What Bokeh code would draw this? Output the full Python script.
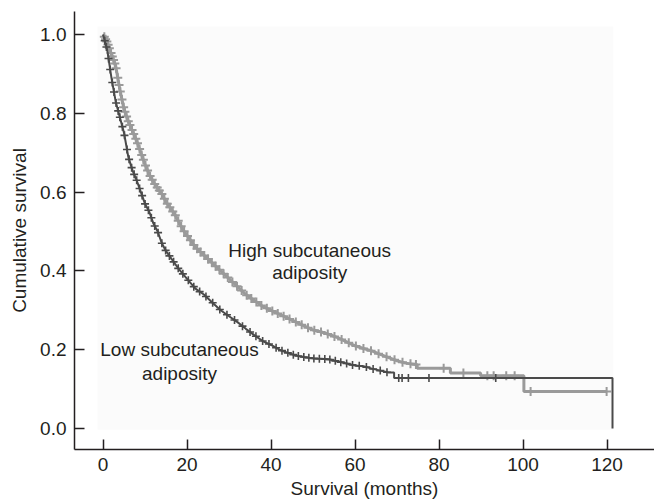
import numpy as np
from bokeh.plotting import figure
from bokeh.models import Range1d, BoxAnnotation, Label, FixedTicker
from bokeh.embed import file_html
from bokeh.resources import INLINE

# ---- data ----
x_ticks = [0, 20, 40, 60, 80, 100, 120]
y_ticks = [0.0, 0.2, 0.4, 0.6, 0.8, 1.0]
y_tick_labels = ["0.0", "0.2", "0.4", "0.6", "0.8", "1.0"]

high_time = [0, 1, 2, 3, 4, 5, 6, 7, 8, 9, 10, 11, 12, 13, 14, 15, 16, 17, 18, 19, 20,
             22, 24, 26, 28, 30, 32, 34, 36, 38, 40, 42, 44, 46, 48, 50, 52, 54, 56, 58,
             60, 62, 64, 66, 68, 70, 72, 74.8, 74.8, 82.7, 82.7, 89.9, 89.9, 100.2, 100.2, 120]
high_surv = [1.00, 0.98, 0.95, 0.92, 0.86, 0.81, 0.78, 0.755, 0.73, 0.70, 0.67, 0.645, 0.625,
             0.61, 0.595, 0.575, 0.56, 0.545, 0.525, 0.505, 0.49,
             0.46, 0.44, 0.42, 0.40, 0.38, 0.36, 0.34, 0.325, 0.31, 0.30, 0.29, 0.28, 0.27,
             0.26, 0.25, 0.245, 0.238, 0.23, 0.22, 0.21, 0.203, 0.197, 0.188, 0.18, 0.172,
             0.166, 0.162, 0.153, 0.153, 0.141, 0.141, 0.134, 0.134, 0.094, 0.094]

low_time = [0, 1, 2, 3, 4, 5, 6, 7, 8, 9, 10, 11, 12, 13, 14, 15, 16, 17, 18, 20, 22, 24,
            26, 28, 30, 32, 34, 36, 38, 40, 42, 44, 46, 48, 50, 52, 54, 56, 58, 60, 62, 64,
            66, 68, 69.3, 69.3, 121.3, 121.3]
low_surv = [1.00, 0.96, 0.89, 0.83, 0.79, 0.75, 0.69, 0.655, 0.63, 0.60, 0.57, 0.55, 0.52,
            0.50, 0.47, 0.45, 0.435, 0.42, 0.405, 0.38, 0.355, 0.34, 0.32, 0.30, 0.285, 0.27,
            0.253, 0.237, 0.222, 0.212, 0.20, 0.192, 0.185, 0.181, 0.178, 0.177, 0.175, 0.17,
            0.165, 0.16, 0.158, 0.152, 0.147, 0.142, 0.142, 0.128, 0.128, 0.0]

high_censor = [0.3, 0.6, 0.9, 1.2, 1.5, 1.9, 2.2, 2.5, 2.8, 3.1, 3.5, 3.8, 4.1, 4.5, 4.9, 5.2,
               5.6, 6.0, 6.4, 6.9, 7.3, 7.8, 8.2, 8.7, 9.2, 9.6, 10.1, 10.6, 11.2, 11.7, 12.3,
               12.9, 13.4, 14.0, 14.6, 15.3, 15.9, 16.6, 17.2, 17.9, 18.6, 19.3, 20.1, 20.8,
               21.6, 22.4, 23.2, 24.1, 25.0, 25.9, 26.8, 27.7, 28.7, 29.7, 30.8, 31.9, 33.0,
               34.2, 35.3, 36.5, 37.7, 39.0, 40.3, 41.6, 43.0, 44.4, 45.9, 47.3, 48.8, 50.3,
               51.9, 53.5, 55.1, 56.8, 58.5, 60.2, 62.0, 63.8, 65.6, 67.5, 69.4, 71.3, 73.2,
               74.5, 81.1, 85.8, 91.5, 93.0, 96.0, 98.0, 101.8, 119.9]
low_censor = [0.4, 0.8, 1.3, 1.7, 2.2, 2.6, 3.1, 3.6, 4.0, 4.6, 5.1, 5.7, 6.2, 6.8, 7.4, 8.0,
              8.7, 9.3, 10.0, 10.8, 11.5, 12.3, 13.1, 14.0, 14.9, 15.8, 16.8, 17.9, 19.0,
              20.3, 21.6, 23.0, 24.5, 26.1, 27.8, 29.5, 31.3, 33.2, 35.0, 36.4, 38.0, 39.5,
              41.2, 42.6, 44.0, 45.3, 46.5, 47.8, 49.0, 50.2, 51.5, 52.8, 54.0, 55.3, 56.6,
              58.0, 59.4, 61.0, 62.7, 64.3, 66.0, 67.6, 70.4, 71.2, 72.7, 77.6, 93.5]

HIGH_COLOR = "#9a9a9a"
LOW_COLOR = "#4a4a4a"
TEXT_COLOR = "#231f20"
FONT = "Liberation Sans"
FS = "19px"

p = figure(width=654, height=501, x_range=Range1d(-6.8, 131.3), y_range=Range1d(-0.0532, 1.0582),
           output_backend="svg", toolbar_location=None,
           min_border_left=74, min_border_top=11, min_border_right=0, min_border_bottom=51)
p.outline_line_color = None
p.grid.visible = False
p.background_fill_color = "white"
p.border_fill_color = "white"

# faint panel behind the curves
p.add_layout(BoxAnnotation(left=-1.3, right=121.5, bottom=-0.003, top=1.02,
                           fill_color="#fbfbfb", fill_alpha=1.0, line_color=None, level="underlay"))

# curves
p.line(high_time, high_surv, line_color=HIGH_COLOR, line_width=3)
hc = np.array(high_censor)
p.scatter(hc, np.interp(hc, high_time, high_surv), marker="cross", size=9,
          line_color=HIGH_COLOR, line_width=2)

p.line(low_time, low_surv, line_color=LOW_COLOR, line_width=2)
lc = np.array(low_censor)
p.scatter(lc, np.interp(lc, low_time, low_surv), marker="cross", size=8,
          line_color=LOW_COLOR, line_width=1.6)

# axes
for ax in (p.xaxis[0], p.yaxis[0]):
    ax.axis_line_color = TEXT_COLOR
    ax.axis_line_width = 1.5
    ax.major_tick_line_color = TEXT_COLOR
    ax.major_tick_line_width = 1.5
    ax.major_tick_in = 10
    ax.major_tick_out = 0
    ax.minor_tick_line_color = None
    ax.major_label_text_font = FONT
    ax.major_label_text_font_size = FS
    ax.major_label_text_color = TEXT_COLOR
    ax.axis_label_text_font = FONT
    ax.axis_label_text_font_size = FS
    ax.axis_label_text_font_style = "normal"
    ax.axis_label_text_color = TEXT_COLOR

p.xaxis.ticker = FixedTicker(ticks=x_ticks)
p.yaxis.ticker = FixedTicker(ticks=y_ticks)
p.yaxis.major_label_overrides = {t: s for t, s in zip(y_ticks, y_tick_labels)}
p.xaxis.axis_label = "Survival (months)"
p.yaxis.axis_label = "Cumulative survival"
p.xaxis.major_label_standoff = 8
p.xaxis.axis_label_standoff = 4
p.yaxis.major_label_standoff = 8
p.yaxis.axis_label_standoff = 7

# curve labels
for txt, x, y in [("High subcutaneous", 49.2, 0.453), ("adiposity", 49.2, 0.397),
                  ("Low subcutaneous", 18.2, 0.200), ("adiposity", 18.2, 0.139)]:
    p.add_layout(Label(x=x, y=y, text=txt, text_align="center", text_baseline="middle",
                       text_font=FONT, text_font_size=FS, text_color=TEXT_COLOR))

open("out.html", "w").write(file_html(p, INLINE))
